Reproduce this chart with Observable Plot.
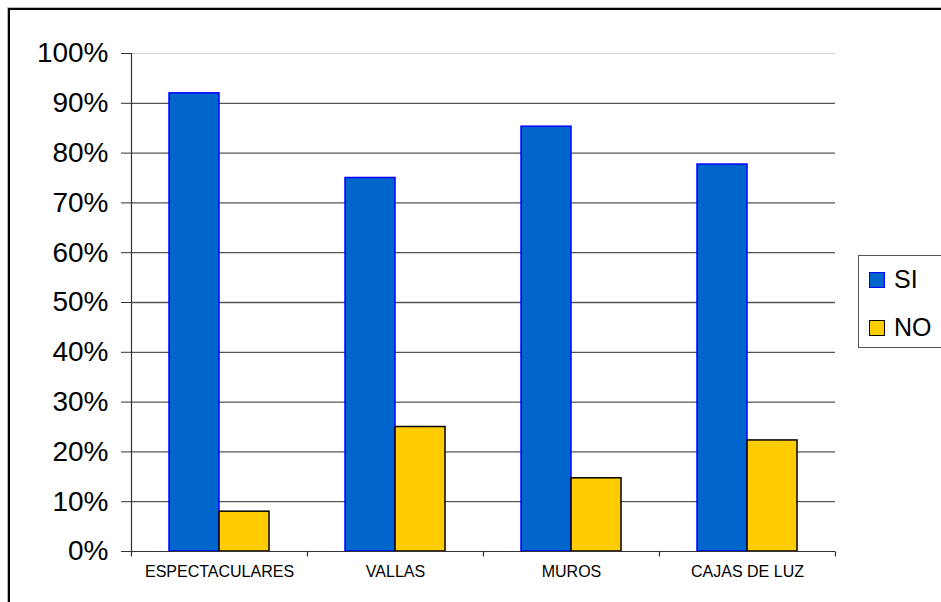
<!DOCTYPE html>
<html>
<head>
<meta charset="utf-8">
<script src="https://cdn.jsdelivr.net/npm/d3@7"></script>
<script src="https://cdn.jsdelivr.net/npm/@observablehq/plot@0.6"></script>
<style>
  html, body { margin: 0; padding: 0; background: #fff; overflow: hidden; }
  #wrap { position: relative; width: 941px; height: 602px; font-family: "Liberation Sans", Arial, sans-serif; }
  #chart { position: absolute; left: 0; top: 0; }
  #border { position: absolute; left: 8px; top: 8px; width: 2000px; height: 2000px;
            border-left: 2px solid #000; border-top: 2px solid #000; box-shadow: -1px -1px 0 #bbb; pointer-events: none; }
  #legend { position: absolute; left: 858px; top: 255px; width: 200px; height: 91px;
            border: 1px solid #555; background: #fff; }
  .item { position: absolute; left: 10px; display: flex; align-items: center; font-size: 25px; color: #000; }
  .sw { width: 14px; height: 14px; margin-right: 9px; box-sizing: content-box; }
</style>
</head>
<body>
<div id="wrap">
  <div id="chart"></div>
  <div id="border"></div>
  <div id="legend"></div>
</div>
<script>
const categories = ["ESPECTACULARES", "VALLAS", "MUROS", "CAJAS DE LUZ"];
const series = ["SI", "NO"];
const siValues = [0.92, 0.75, 0.853, 0.777];
const noValues = [0.08, 0.25, 0.147, 0.223];
const yTicks = [0, 0.1, 0.2, 0.3, 0.4, 0.5, 0.6, 0.7, 0.8, 0.9, 1];
const fills = ["#0066CC", "#FFCC00"];
const strokes = ["#0000FF", "#000000"];

const data = categories.flatMap((c, i) => [
  {category: c, series: series[0], value: siValues[i]},
  {category: c, series: series[1], value: noValues[i]}
]);

const tickSymbol = {draw(ctx) { ctx.moveTo(0, 0); ctx.lineTo(0, 5); }};

const chart = Plot.plot({
  width: 941,
  height: 602,
  marginLeft: 130,
  marginRight: 106,
  marginTop: 53,
  marginBottom: 51,
  style: {fontFamily: "'Liberation Sans', Arial, sans-serif", background: "transparent", color: "#000"},
  fx: {domain: categories, padding: 0},
  x: {domain: series, paddingInner: 0, paddingOuter: 0.728, axis: null},
  y: {domain: [0, 1]},
  marks: [
    Plot.gridY(yTicks.slice(1, 10), {stroke: "#555", strokeOpacity: 1, strokeWidth: 1.3}),
    Plot.gridY([1], {stroke: "#d0d0d0", strokeOpacity: 1, strokeWidth: 1}),
    Plot.barY(data.filter(d => d.series === series[0]), {fx: "category", x: "series", y: "value", fill: fills[0], stroke: strokes[0], strokeWidth: 1.5}),
    Plot.barY(data.filter(d => d.series === series[1]), {fx: "category", x: "series", y: "value", fill: fills[1], stroke: strokes[1], strokeWidth: 1.5}),
    Plot.ruleY([0], {stroke: "#333", strokeWidth: 1.2}),
    Plot.frame({anchor: "left", facetAnchor: "left", stroke: "#333", strokeWidth: 1.2}),
    Plot.dot([0], {frameAnchor: "bottom-left", symbol: tickSymbol, fill: "none", stroke: "#333", strokeWidth: 1.2}),
    Plot.dot([0], {frameAnchor: "bottom-right", facetAnchor: "right", symbol: tickSymbol, fill: "none", stroke: "#333", strokeWidth: 1.2}),
    Plot.axisY(yTicks, {tickSize: 10, tickPadding: 13, fontSize: 28, tickFormat: d3.format(".0%"), stroke: "#333", label: null}),
    Plot.axisFx({anchor: "bottom", tickSize: 0, tickPadding: 14, fontSize: 16, label: null})
  ]
});
document.getElementById("chart").appendChild(chart);

const legend = document.getElementById("legend");
series.forEach((s, i) => {
  const item = document.createElement("div");
  item.className = "item";
  item.style.top = (i === 0 ? 9 : 57) + "px";
  const sw = document.createElement("div");
  sw.className = "sw";
  sw.style.background = fills[i];
  sw.style.border = "1.5px solid " + strokes[i];
  const t = document.createElement("span");
  t.textContent = s;
  item.appendChild(sw);
  item.appendChild(t);
  legend.appendChild(item);
});
</script>
</body>
</html>
